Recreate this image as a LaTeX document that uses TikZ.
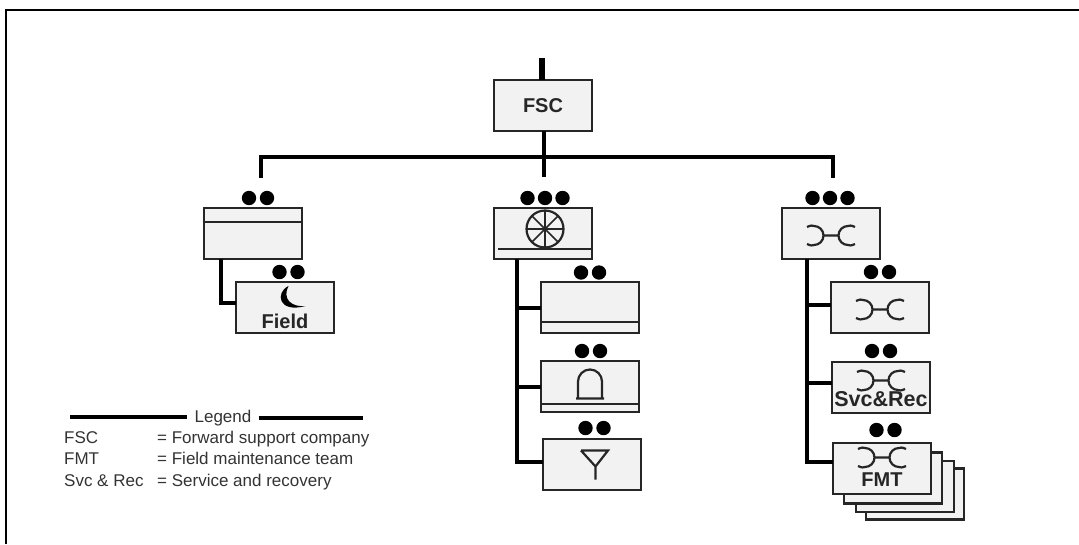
\documentclass[tikz,border=0pt]{standalone}
\usepackage{fontspec}
\setmainfont{Liberation Sans}
\usetikzlibrary{positioning,backgrounds}

\tikzset{
    unitbox/.style={fill=gray!10!white, draw=black!85, line width=2.2pt, minimum width=98pt, minimum height=51pt, inner sep=0pt, outer sep=0pt},
    unitname/.style={font=\fontsize{20}{20}\selectfont\bfseries, text=black!85, inner sep=0pt},
    link/.style={draw=black, line width=4pt},
    legendtext/.style={font=\fontsize{17}{17}\selectfont, text=black!80, anchor=base west, inner sep=0pt},
    symline/.style={draw=black!85, line width=2.2pt},
    twodots/.pic={\fill (-9,0) circle (7.2); \fill (9,0) circle (7.2);},
    threedots/.pic={\fill (-17.5,0) circle (7.2); \fill (0,0) circle (7.2); \fill (17.5,0) circle (7.2);},
    wrench/.pic={\draw[symline] (-24,8.5) .. controls (-20,10.5) and (-18,10) .. (-17,9.5) arc (90:-90:9.5) .. controls (-18,-10) and (-20,-10.5) .. (-24,-8.5) (-7.5,0) -- (7.5,0) (24,8.5) .. controls (20,10.5) and (18,10) .. (17,9.5) arc (90:270:9.5) .. controls (18,-10) and (20,-10.5) .. (24,-8.5);}
}

\begin{document}
\begin{tikzpicture}[x=1pt, y=1pt, node distance=23pt]
            \useasboundingbox (0,0) rectangle (1079,-544);

            % Page frame (only left and top are printed)
            \coordinate (framebl) at (6,-544);
            \coordinate (frametl) at (6,-10);
            \coordinate (frametr) at (1079,-10);
            \draw[line width=2.4pt] (framebl) -- (frametl) -- (frametr);

            % Company
            \node[unitbox, font=\fontsize{20}{20}\selectfont\bfseries, text=black!85] (fsc) at (543,-105.5) {FSC};

            % Platoons
            \node[unitbox, below=77pt of fsc] (ctr) {};
            \node[unitbox, left=192pt of ctr] (lead) {};
            \node[unitbox, right=190pt of ctr] (maint) {};

            % Left branch
            \node[unitbox, below right=23pt and -66pt of lead] (field) {};
            \node[unitname] (fieldname) at ([yshift=-13.5]field.center) {Field};

            % Middle branch
            \node[unitbox, below right=23pt and -51pt of ctr] (supa) {};
            \node[unitbox, below=28pt of supa] (supb) {};
            \node[unitbox, below=27pt of supb, xshift=2pt] (supc) {};

            % Right branch
            \node[unitbox, below right=23pt and -49pt of maint] (mnta) {};
            \node[unitbox, below=29pt of mnta, xshift=1pt] (svc) {};
            \node[unitname, font=\fontsize{21.5}{21.5}\selectfont\bfseries] (svcname) at ([yshift=-12]svc.center) {Svc\&Rec};
            \node[unitbox, below=30pt of svc, xshift=1pt] (fmt) {};
            \node[unitname] (fmtname) at ([yshift=-11]fmt.center) {FMT};

            % Sheets behind the FMT box
            \begin{pgfonlayer}{background}
                \node[unitbox, xshift=33pt, yshift=-25.5pt] (sheetc) at (fmt) {};
                \node[unitbox, xshift=23pt, yshift=-18pt] (sheetb) at (fmt) {};
                \node[unitbox, xshift=11pt, yshift=-9.5pt] (sheeta) at (fmt) {};
            \end{pgfonlayer}

            % Bars inside the boxes
            \draw[symline] ([yshift=-14]lead.north west) -- ([yshift=-14]lead.north east);
            \draw[symline] ([xshift=4,yshift=10]ctr.south west) -- ([yshift=10]ctr.south east);
            \draw[symline] ([yshift=11]supa.south west) -- ([yshift=11]supa.south east);
            \draw[symline] ([yshift=8]supb.south west) -- ([yshift=8]supb.south east);

            % Symbols
            \pic at ([yshift=-2]maint.center) {wrench};
            \pic at ([yshift=-2]mnta.center) {wrench};
            \pic at ([yshift=7]svc.center) {wrench};
            \pic at ([yshift=11]fmt.center) {wrench};

            % Wheel
            \begin{scope}[shift={([xshift=2,yshift=4.5]ctr.center)}]
                \draw[symline] (0,0) circle (18.5);
                \foreach \a in {0,45,...,315} {
                    \draw[symline, line width=1.7pt] (0,0) -- (\a:18.5);
                }
            \end{scope}

            % Moon
            \begin{scope}[shift={(field.center)}]
                \fill[black] (3.5,21.5) .. controls (-10,15) and (-7,-6) .. (20.5,1.5)
                    .. controls (6,0) and (-3,9) .. (3.5,21.5);
            \end{scope}

            % Dome and antenna
            \begin{scope}[shift={(supb.center)}]
                \draw[symline] (-14,-12) -- (14,-12) (-12,-12) -- (-12,5) arc (180:0:12) -- (12,-12);
            \end{scope}
            \begin{scope}[shift={(supc.center)}]
                \draw[symline] (-11,14) -- (16,14) -- (3.5,-2) -- (-11,14) (3.5,-2) -- (3.5,-15);
            \end{scope}

            % Dots above the boxes
            \pic at ([xshift=5,yshift=10]lead.north) {twodots};
            \pic at ([xshift=3.5,yshift=10]field.north) {twodots};
            \pic at ([xshift=2,yshift=10]ctr.north) {threedots};
            \pic at ([yshift=9.5]supa.north) {twodots};
            \pic at ([xshift=1,yshift=10]supb.north) {twodots};
            \pic at ([xshift=2.5,yshift=11]supc.north) {twodots};
            \pic at ([xshift=-1,yshift=10]maint.north) {threedots};
            \pic at ([yshift=10]mnta.north) {twodots};
            \pic at ([yshift=11]svc.north) {twodots};
            \pic at ([xshift=3.5,yshift=13]fmt.north) {twodots};

            % Connectors from the company down
            \coordinate (feed) at (541.5,-58);
            \coordinate (busl) at (261,-178);
            \coordinate (busc) at (544,-177);
            \coordinate (busr) at (833,-178);
            \coordinate (busy) at (544,-157);
            \draw[link, line width=6pt] (feed) -- (feed |- fsc.north);
            \draw[link] (busc |- fsc.south) -- (busc);
            \draw[link] (busl) |- (busy) -| (busr);

            % Connectors inside the branches
            \coordinate (trunkl) at ([xshift=-32]lead.south);
            \coordinate (trunkc) at ([xshift=-26]ctr.south);
            \coordinate (trunkr) at ([xshift=-24.5]maint.south);
            \draw[link] (trunkl) |- ([yshift=5]field.west);
            \draw[link] (trunkc) |- ([yshift=3]supc.west);
            \draw[link] (supa.west) -- (supa.west -| trunkc);
            \draw[link] (supb.west) -- (supb.west -| trunkc);
            \draw[link] (trunkr) |- ([yshift=7]fmt.west);
            \draw[link] ([yshift=3]mnta.west) -- ([yshift=3]mnta.west -| trunkr);
            \draw[link] ([yshift=5]svc.west) -- ([yshift=5]svc.west -| trunkr);

            % Legend
            \node[legendtext, anchor=base] (legend) at (223,-422) {Legend};
            \coordinate (legl) at (70,-417);
            \coordinate (legr) at (363,-418);
            \draw[line width=3.4pt] (legl) -- ([xshift=-7]legend.west |- legl);
            \draw[line width=3.4pt] ([xshift=7]legend.east |- legr) -- (legr);
            \node[legendtext] (keya) at (64,-443) {FSC};
            \node[legendtext] (keyb) at (64,-464) {FMT};
            \node[legendtext] (keyc) at (64,-486) {Svc \& Rec};
            \node[legendtext] (vala) at (157,-443) {= Forward support company};
            \node[legendtext] (valb) at (157,-464) {= Field maintenance team};
            \node[legendtext] (valc) at (157,-486) {= Service and recovery};
\end{tikzpicture}
\end{document}
